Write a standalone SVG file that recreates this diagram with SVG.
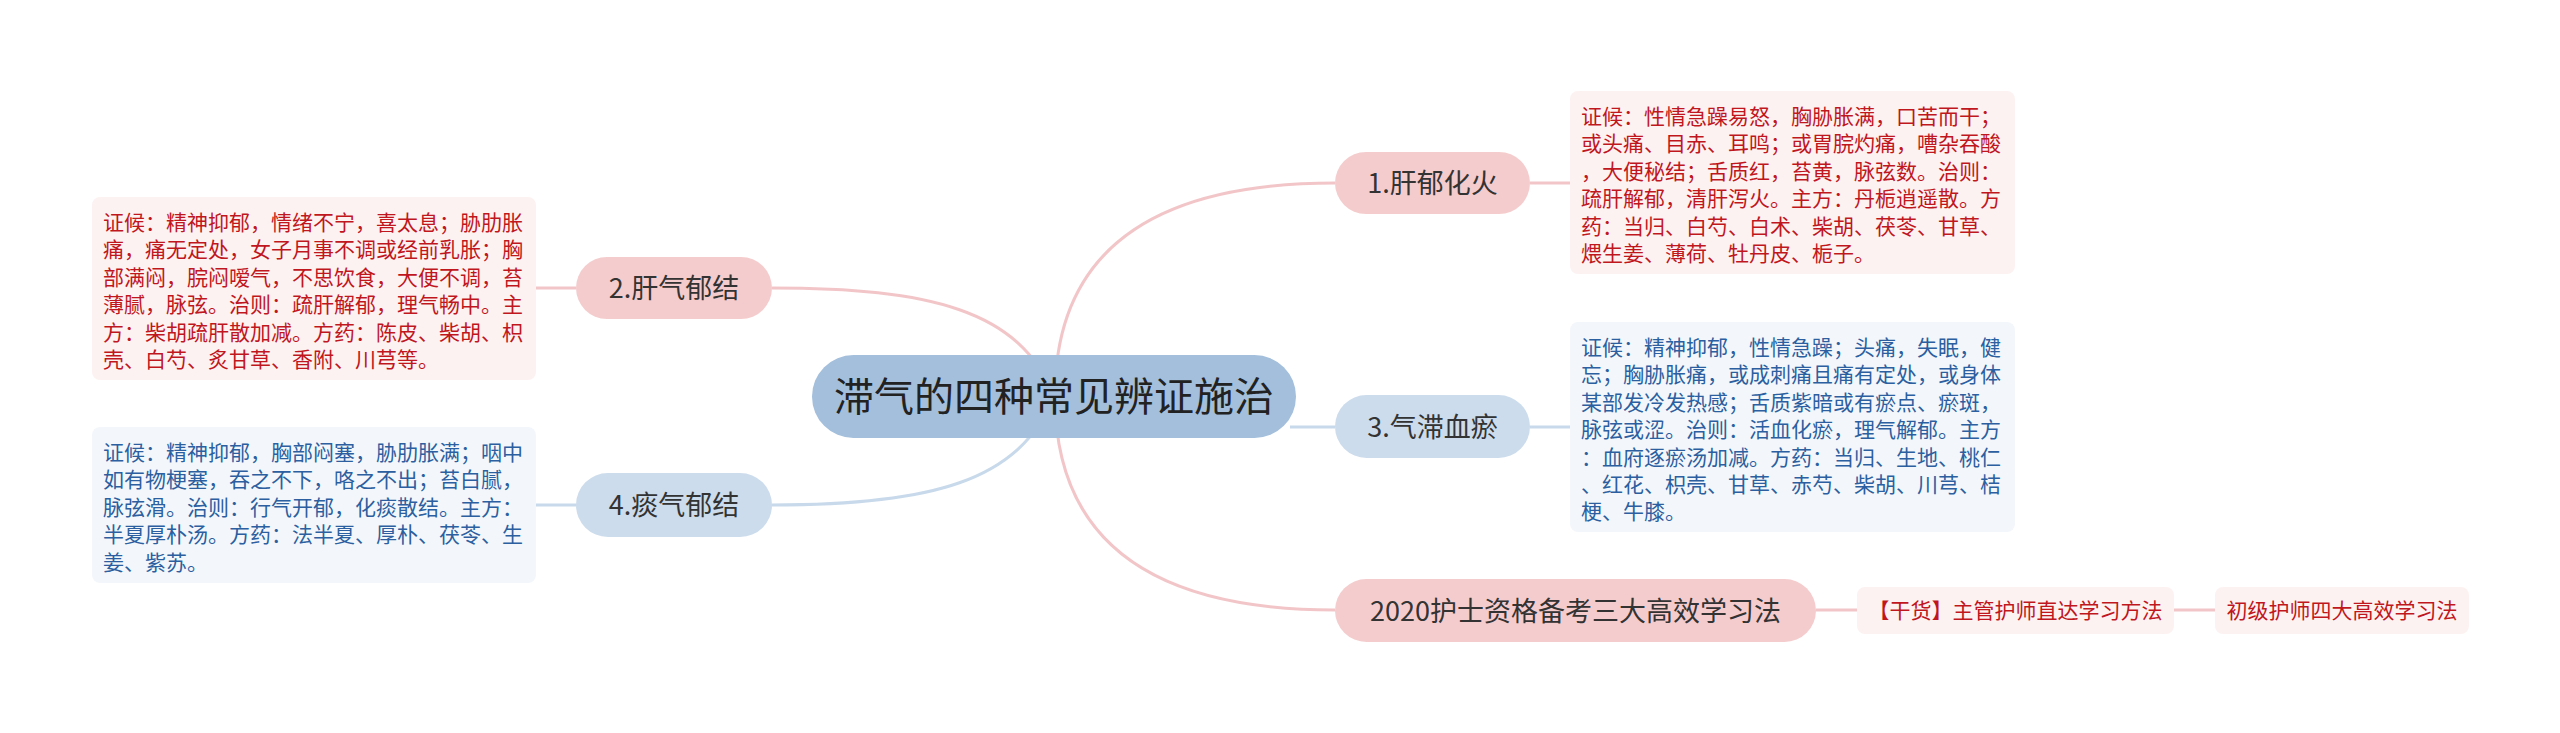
<svg xmlns="http://www.w3.org/2000/svg" width="2560" height="733" viewBox="0 0 2560 733">
<style>
text{font-family:"Noto Sans CJK SC","Noto Sans",sans-serif}
.root{fill:#a3bfdc}
.rootT{font-size:40px;fill:#222;text-anchor:middle}
.pk{fill:#f5cccd}
.bl{fill:#ccdcec}
.nodeT{font-size:27px;fill:#333;text-anchor:middle}
.pkBox{fill:#fdf2f2}
.blBox{fill:#f3f7fb}
.redT{font-size:21px;fill:#c0161d}
.bluT{font-size:21px;fill:#2c5f9f}
.subT{font-size:21px;fill:#c0161d;text-anchor:middle}
.cp{fill:none;stroke:#f2c6c8;stroke-width:3}
.cb{fill:none;stroke:#c7d9ea;stroke-width:3}
</style>
<g id="connectors">
<path class="cp" d="M1055 396 Q1055 183 1335 183"/>
<path class="cp" d="M1055 396 Q1055 610 1335 610"/>
<path class="cb" d="M1290 427 L1335 427"/>
<path class="cp" d="M772 288 C930 288 1020 310 1054 396"/>
<path class="cb" d="M772 505 C930 505 1020 482 1054 396"/>
<path class="cp" d="M1530 183 L1570 183"/>
<path class="cb" d="M1530 427 L1570 427"/>
<path class="cp" d="M576 288 L536 288"/>
<path class="cb" d="M576 505 L536 505"/>
<path class="cp" d="M1816 610 L1857 610"/>
<path class="cp" d="M2174 610 L2215 610"/>
</g>
<g id="root">
<rect class="root" x="812" y="355" width="484" height="83" rx="41.5"/>
<text class="rootT" x="1054" y="411">滞气的四种常见辨证施治</text>
</g>
<g id="node1">
<rect class="pk" x="1335" y="152" width="195" height="62" rx="31"/>
<text class="nodeT" x="1432.5" y="193">1.肝郁化火</text>
</g>
<g id="node1-detail">
<rect class="pkBox" x="1570" y="91" width="445" height="183" rx="8"/>
<text class="redT" x="1581">
<tspan x="1581" y="124">证候：性情急躁易怒，胸胁胀满，口苦而干；</tspan>
<tspan x="1581" y="151.4">或头痛、目赤、耳鸣；或胃脘灼痛，嘈杂吞酸</tspan>
<tspan x="1581" y="178.8">，大便秘结；舌质红，苔黄，脉弦数。治则：</tspan>
<tspan x="1581" y="206.2">疏肝解郁，清肝泻火。主方：丹栀逍遥散。方</tspan>
<tspan x="1581" y="233.6">药：当归、白芍、白术、柴胡、茯苓、甘草、</tspan>
<tspan x="1581" y="261">煨生姜、薄荷、牡丹皮、栀子。</tspan>
</text>
</g>
<g id="node2">
<rect class="pk" x="576" y="257" width="196" height="62" rx="31"/>
<text class="nodeT" x="674" y="298">2.肝气郁结</text>
</g>
<g id="node2-detail">
<rect class="pkBox" x="92" y="197" width="444" height="183" rx="8"/>
<text class="redT">
<tspan x="103" y="230">证候：精神抑郁，情绪不宁，喜太息；胁肋胀</tspan>
<tspan x="103" y="257.4">痛，痛无定处，女子月事不调或经前乳胀；胸</tspan>
<tspan x="103" y="284.8">部满闷，脘闷嗳气，不思饮食，大便不调，苔</tspan>
<tspan x="103" y="312.2">薄腻，脉弦。治则：疏肝解郁，理气畅中。主</tspan>
<tspan x="103" y="339.6">方：柴胡疏肝散加减。方药：陈皮、柴胡、枳</tspan>
<tspan x="103" y="367">壳、白芍、炙甘草、香附、川芎等。</tspan>
</text>
</g>
<g id="node3">
<rect class="bl" x="1335" y="395" width="195" height="63" rx="31.5"/>
<text class="nodeT" x="1432.5" y="437">3.气滞血瘀</text>
</g>
<g id="node3-detail">
<rect class="blBox" x="1570" y="322" width="445" height="210" rx="8"/>
<text class="bluT">
<tspan x="1581" y="355">证候：精神抑郁，性情急躁；头痛，失眠，健</tspan>
<tspan x="1581" y="382.4">忘；胸胁胀痛，或成刺痛且痛有定处，或身体</tspan>
<tspan x="1581" y="409.8">某部发冷发热感；舌质紫暗或有瘀点、瘀斑，</tspan>
<tspan x="1581" y="437.2">脉弦或涩。治则：活血化瘀，理气解郁。主方</tspan>
<tspan x="1581" y="464.6">：血府逐瘀汤加减。方药：当归、生地、桃仁</tspan>
<tspan x="1581" y="492">、红花、枳壳、甘草、赤芍、柴胡、川芎、桔</tspan>
<tspan x="1581" y="519.4">梗、牛膝。</tspan>
</text>
</g>
<g id="node4">
<rect class="bl" x="576" y="473" width="196" height="64" rx="32"/>
<text class="nodeT" x="674" y="515">4.痰气郁结</text>
</g>
<g id="node4-detail">
<rect class="blBox" x="92" y="427" width="444" height="156" rx="8"/>
<text class="bluT">
<tspan x="103" y="460">证候：精神抑郁，胸部闷塞，胁肋胀满；咽中</tspan>
<tspan x="103" y="487.4">如有物梗塞，吞之不下，咯之不出；苔白腻，</tspan>
<tspan x="103" y="514.8">脉弦滑。治则：行气开郁，化痰散结。主方：</tspan>
<tspan x="103" y="542.2">半夏厚朴汤。方药：法半夏、厚朴、茯苓、生</tspan>
<tspan x="103" y="569.6">姜、紫苏。</tspan>
</text>
</g>
<g id="node5">
<rect class="pk" x="1335" y="579" width="481" height="63" rx="31.5"/>
<text class="nodeT" x="1575.5" y="621">2020护士资格备考三大高效学习法</text>
</g>
<g id="sub1">
<rect class="pkBox" x="1857" y="587" width="317" height="47" rx="8"/>
<text class="subT" x="2015.5" y="618">【干货】主管护师直达学习方法</text>
</g>
<g id="sub2">
<rect class="pkBox" x="2215" y="587" width="254" height="47" rx="8"/>
<text class="subT" x="2342" y="618">初级护师四大高效学习法</text>
</g>
</svg>
